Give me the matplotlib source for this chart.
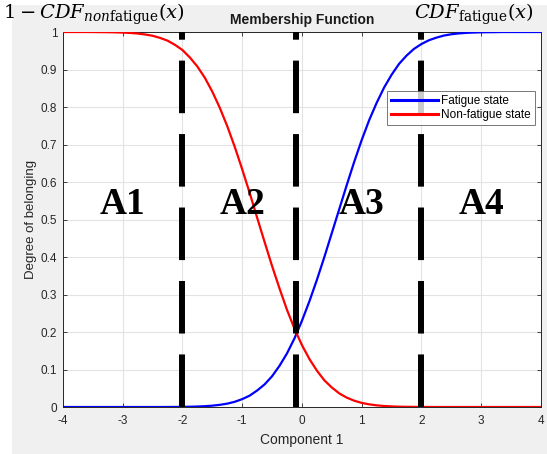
import numpy as np
import matplotlib
matplotlib.use("Agg")
import matplotlib.pyplot as plt
from matplotlib.patches import Rectangle

# values (step 0.125 along Component 1)
x_vals = [-4.0, -3.875, -3.75, -3.625, -3.5, -3.375, -3.25, -3.125, -3.0, -2.875, -2.75, -2.625,
          -2.5, -2.375, -2.25, -2.125, -2.0, -1.875, -1.75, -1.625, -1.5, -1.375, -1.25, -1.125,
          -1.0, -0.875, -0.75, -0.625, -0.5, -0.375, -0.25, -0.125, 0.0, 0.125, 0.25, 0.375,
          0.5, 0.625, 0.75, 0.875, 1.0, 1.125, 1.25, 1.375, 1.5, 1.625, 1.75, 1.875,
          2.0, 2.125, 2.25, 2.375, 2.5, 2.625, 2.75, 2.875, 3.0, 3.125, 3.25, 3.375,
          3.5, 3.625, 3.75, 3.875, 4.0]
fatigue = [0.0, 0.0, 0.0, 0.0, 0.0, 0.0, 0.0, 0.0, 0.0, 0.0, 0.0, 0.0,
           0.0, 0.0, 0.0001, 0.0002, 0.0004, 0.0008, 0.0013, 0.0022, 0.0036, 0.0058, 0.009, 0.0139,
           0.021, 0.0303, 0.044, 0.0603, 0.082, 0.110, 0.143, 0.183, 0.23, 0.282, 0.339, 0.400,
           0.464, 0.528, 0.592, 0.654, 0.712, 0.765, 0.811, 0.852, 0.886, 0.915, 0.937, 0.955,
           0.968, 0.978, 0.985, 0.9905, 0.994, 0.9962, 0.9977, 0.9986, 0.9992, 0.9995, 0.9997, 1.0,
           1.0, 1.0, 1.0, 1.0, 1.0]
nonfatigue = [1.0, 1.0, 1.0, 1.0, 0.9999, 0.9997, 0.9995, 0.9991, 0.9985, 0.9975, 0.996, 0.9934,
              0.99, 0.9843, 0.977, 0.9658, 0.952, 0.932, 0.908, 0.878, 0.841, 0.798, 0.749, 0.694,
              0.634, 0.571, 0.505, 0.440, 0.376, 0.316, 0.259, 0.209, 0.165, 0.128, 0.097, 0.0712,
              0.052, 0.0363, 0.025, 0.0168, 0.011, 0.0071, 0.0044, 0.0027, 0.0016, 0.0009, 0.0005, 0.0003,
              0.0002, 0.0001, 0.0, 0.0, 0.0, 0.0, 0.0, 0.0, 0.0, 0.0, 0.0, 0.0,
              0.0, 0.0, 0.0, 0.0, 0.0]
boundaries = [-2.0, -0.1, 2.0]
region_names = ["A1", "A2", "A3", "A4"]
region_x = [-3.0, -1.0, 1.0, 3.0]

plt.rcParams["font.family"] = ["Liberation Sans", "DejaVu Sans"]
plt.rcParams["axes.unicode_minus"] = False
plt.rcParams["mathtext.fontset"] = "dejavuserif"

fig = plt.figure(figsize=(5.47, 4.54), dpi=100, facecolor="white")
fig.patches.append(Rectangle((12 / 547, 0), 1, 1 - 5 / 454, transform=fig.transFigure,
                             facecolor="#f0f0f0", edgecolor="none", zorder=-10))
ax = fig.add_axes([0.115, 0.1035, 0.874, 0.826])
ax.set_facecolor("white")

ax.plot(x_vals, fatigue, color="#0000ff", lw=1.6, label="Fatigue state", zorder=3)
ax.plot(x_vals, nonfatigue, color="#ff0000", lw=1.6, label="Non-fatigue state", zorder=3)

for b in boundaries:
    ax.plot([b, b], [0, 1], color="black", lw=4.3, dashes=(8.8, 3.5), zorder=4)

for name, xc in zip(region_names, region_x):
    ax.text(xc, 0.54, name, ha="center", va="center", fontsize=27, fontweight="bold",
            family="Liberation Serif", color="black", zorder=5)

ax.set_xlim(-4, 4)
ax.set_ylim(0, 1)
ax.set_xticks(np.arange(-4, 5, 1))
ax.set_yticks(np.arange(0, 1.01, 0.1))
ax.set_xticklabels([str(v) for v in range(-4, 5)])
ax.set_yticklabels(["0"] + ["%.1f" % v for v in np.arange(0.1, 0.95, 0.1)] + ["1"])
ax.grid(True, color="#e3e3e3", lw=0.8)
ax.set_axisbelow(True)
ax.tick_params(direction="in", length=3, width=0.6, top=True, right=True,
               labelsize=8.5, colors="#262626")
ax.tick_params(axis="x", pad=6)
ax.tick_params(axis="y", pad=4)
for s in ax.spines.values():
    s.set_color("#262626")
    s.set_linewidth(0.7)

ax.set_xlabel("Component 1", fontsize=10, color="#262626", labelpad=4)
ax.set_ylabel("Degree of belonging", fontsize=9.5, color="#262626", labelpad=3)
ax.set_title("Membership Function", fontsize=10, fontweight="bold", color="#1a1a1a", pad=6)

leg = ax.legend(loc="upper left", bbox_to_anchor=(0.678, 0.842), fontsize=8.5,
                handlelength=4.0, frameon=True, fancybox=False, borderpad=0.3,
                labelspacing=0.2, handletextpad=0.3, borderaxespad=0)
leg.get_frame().set_edgecolor("#555555")
leg.get_frame().set_linewidth(0.7)
for line in leg.get_lines():
    line.set_linewidth(2.2)
leg.set_zorder(6)

fig.text(3 / 547, 1 - 19 / 454, r"$1-CDF_{non\mathrm{fatigue}}(x)$", fontsize=14,
         ha="left", va="baseline", color="black")
fig.text(534 / 547, 1 - 19 / 454, r"$CDF_{\mathrm{fatigue}}(x)$", fontsize=14,
         ha="right", va="baseline", color="black")

fig.savefig("out.png", dpi=100, facecolor=fig.get_facecolor())
